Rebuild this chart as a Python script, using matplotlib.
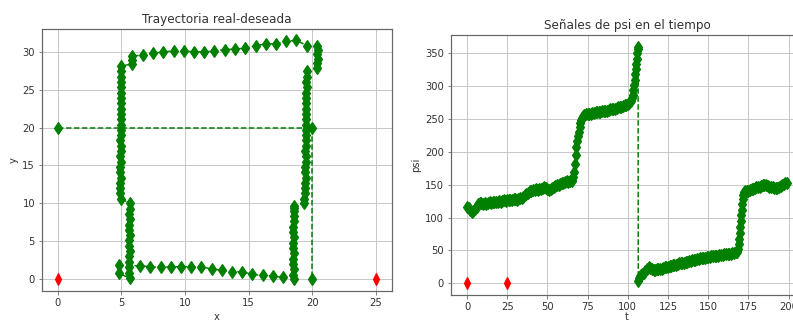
import matplotlib
matplotlib.use("Agg")
import matplotlib.pyplot as plt

# ---- trajectory data (x, y) ----
# waypoint reference path
ref_x = [0, 20, 20]
ref_y = [20, 20, 0]

# points marked in red
goal_x = [0, 25]
goal_y = [0, 0]

# measured trajectory, segment by segment
seg_a_x = [18.55, 18.5, 18.55, 18.5, 18.5, 18.55, 18.5, 18.5, 18.55, 18.5, 18.5, 18.55, 18.6, 18.6]
seg_a_y = [0.0, 0.6, 1.3, 2.0, 2.7, 3.4, 4.1, 4.8, 5.5, 6.2, 6.9, 7.6, 8.3, 9.0]
seg_a2_x = [18.6, 18.6]
seg_a2_y = [9.4, 9.6]
seg_b_x = [19.4, 19.4, 19.45, 19.45, 19.45, 19.5, 19.45, 19.45, 19.5, 19.5, 19.45, 19.5, 19.5,
           19.5, 19.55, 19.5, 19.5, 19.55, 19.55, 19.5, 19.55, 19.55, 19.6, 19.55, 19.6, 19.6]
seg_b_y = [10.0, 10.6, 11.3, 12.0, 12.7, 13.4, 14.1, 14.8, 15.5, 16.2, 16.9, 17.6, 18.3,
           19.0, 19.7, 20.4, 21.1, 21.8, 22.5, 23.2, 23.9, 24.6, 25.3, 26.0, 26.7, 27.4]
seg_c_x = [20.4, 20.4, 20.45, 20.4, 20.45, 20.4]
seg_c_y = [27.9, 28.5, 29.1, 29.7, 30.2, 30.7]
top_x = [19.63, 18.74, 17.95, 17.16, 16.35, 15.56, 14.75, 13.96, 13.15, 12.3, 11.5, 10.7,
         9.9, 9.1, 8.3, 7.5, 6.72]
top_y = [30.8, 31.5, 31.4, 31.05, 31.05, 30.8, 30.5, 30.35, 30.3, 30.1, 30.0, 30.0,
         30.1, 30.1, 30.0, 29.8, 29.6]
seg_e_x = [5.8, 5.8, 5.8]
seg_e_y = [29.4, 28.9, 28.4]
seg_f_x = [5.0, 5.0, 4.95, 5.0, 4.95, 4.95, 5.0, 4.95, 4.95, 4.95, 5.0, 4.95, 4.95,
           4.95, 4.9, 4.95, 4.95, 4.9, 4.95, 4.9, 4.9, 4.95, 4.9, 4.9, 4.9, 4.95]
seg_f_y = [28.1, 27.4, 26.7, 26.0, 25.3, 24.6, 23.9, 23.2, 22.5, 21.8, 21.1, 20.4, 19.7,
           19.0, 18.3, 17.6, 16.9, 16.2, 15.5, 14.8, 14.1, 13.4, 12.7, 12.0, 11.3, 10.6]
seg_g_x = [5.65, 5.65, 5.6, 5.65, 5.6, 5.6, 5.65, 5.6, 5.6, 5.65, 5.6, 5.6, 5.6, 5.6, 5.65]
seg_g_y = [10.0, 9.3, 8.6, 7.9, 7.2, 6.5, 5.8, 5.1, 4.4, 3.7, 3.0, 2.3, 1.6, 0.8, 0.1]
seg_h_x = [4.83, 4.83]
seg_h_y = [0.75, 1.8]
bottom_x = [6.46, 7.24, 8.08, 8.87, 9.69, 10.47, 11.29, 12.1, 12.9, 13.7, 14.5, 15.3,
            16.1, 16.9, 17.7]
bottom_y = [1.76, 1.63, 1.54, 1.63, 1.63, 1.63, 1.63, 1.32, 1.19, 0.97, 0.97, 0.62,
            0.48, 0.4, 0.22]

real_x = (seg_a_x + seg_a2_x + seg_b_x + seg_c_x + top_x + seg_e_x + seg_f_x
          + seg_g_x + seg_h_x + bottom_x)
real_y = (seg_a_y + seg_a2_y + seg_b_y + seg_c_y + top_y + seg_e_y + seg_f_y
          + seg_g_y + seg_h_y + bottom_y)

# ---- heading signal psi(t) ----
psi_t = [
    0, 1, 2, 3, 4, 5, 6, 7, 8, 9, 10, 11, 12, 13, 14, 15, 16, 17, 18, 19, 20,
    21, 22, 23, 24, 25, 26, 27, 28, 29, 30, 31, 32, 33, 34, 35, 36, 37, 38, 39, 40,
    41, 42, 43, 44, 45, 46, 47, 48, 49, 50, 51, 52, 53, 54, 55, 56, 57, 58, 59, 60,
    61, 62, 63, 64, 65,
    65.5, 66, 66.5, 67, 67.5, 68, 68.5, 69, 69.5, 70, 70.5, 71, 71.5, 72, 73,
    74, 75, 76, 77, 78, 79, 80, 81, 82, 83, 84, 85, 86, 87, 88, 89, 90,
    91, 92, 93, 94, 95, 96, 97, 98, 99, 100, 101, 102,
    102.5, 103, 103.5, 104, 104.3, 104.6, 104.9, 105.2, 105.5, 105.8, 106.1, 106.4,
    106.5, 107, 107.5, 108, 109, 110, 111, 112, 113, 114, 115, 116, 117, 118, 119, 120,
    121, 122, 123, 124, 125, 126, 127, 128, 129, 130, 131, 132, 133, 134, 135, 136,
    137, 138, 139, 140, 141, 142, 143, 144, 145, 146, 147, 148, 149, 150, 151, 152,
    153, 154, 155, 156, 157, 158, 159, 160, 161, 162, 163, 164, 165, 166, 167, 168,
    168.5, 169, 169.3, 169.6, 169.9, 170.2, 170.5, 170.8, 171.1, 171.4, 171.7, 172,
    172.5, 173,
    174, 175, 176, 177, 178, 179, 180, 181, 182, 183, 184, 185, 186, 187, 188, 189,
    190, 191, 192, 193, 194, 195, 196, 197, 198, 199,
]
psi_val = [
    116, 114, 111, 109, 110, 113, 116, 120, 122, 122, 121, 122, 121, 122, 123, 122,
    123, 124, 123, 124, 125, 124, 125, 126, 125, 126, 127, 126, 127, 128, 128, 127,
    128, 129, 130, 132, 134, 136, 138, 140, 141, 142, 142, 143, 142, 143, 144, 145,
    146, 145, 144, 142, 143, 145, 147, 148, 149, 150, 151, 152, 153, 154, 155, 154,
    155, 156,
    158, 162, 170, 182, 195, 207, 216, 224, 231, 238, 244, 249, 252, 254, 256,
    257, 257, 258, 258, 259, 259, 260, 260, 261, 261, 262, 262, 263, 263, 264, 265,
    265, 266, 266, 267, 268, 268, 269, 270, 271, 272, 273, 275, 278,
    282, 287, 294, 302, 310, 318, 326, 334, 342, 350, 356, 360,
    3, 8, 11, 12, 14, 16, 19, 22, 24, 23, 21, 20, 20, 21, 21, 22,
    22, 23, 24, 25, 25, 26, 26, 27, 28, 28, 29, 30, 30, 31, 31, 32,
    33, 34, 34, 35, 36, 36, 37, 37, 38, 38, 39, 39, 40, 40, 40, 41,
    41, 42, 42, 42, 43, 43, 43, 44, 44, 44, 45, 45, 46, 46, 47, 48,
    52, 60, 68, 77, 86, 95, 104, 112, 120, 128, 134, 137,
    139, 140,
    141, 141, 142, 143, 144, 145, 146, 146, 147, 148, 149, 150, 149, 148, 147, 147,
    146, 145, 145, 145, 146, 148, 149, 151, 152, 153,
]

goal_t = [0, 25]
goal_psi = [0, 0]

# ---- figure ----
DPI = 72
fig = plt.figure(figsize=(793 / DPI, 323 / DPI), dpi=DPI)

text_color = "#333333"
spine_color = "#666666"

ax1 = fig.add_axes([42 / 793, 1 - 291 / 323, 349.5 / 793, 262.5 / 323])
ax2 = fig.add_axes([451 / 793, 1 - 295 / 323, 352 / 793, 260 / 323])

ms = 9
mew = 1.2
ax1.plot(ref_x, ref_y, "gd--", ms=ms, mew=mew, lw=1.5)
ax1.plot(real_x, real_y, "gd--", ms=ms, mew=mew, lw=1.5)
ax1.plot(goal_x, goal_y, "rd", ms=8, mew=mew)
ax1.set_title("Trayectoria real-deseada", fontsize=12, color=text_color)
ax1.set_xlabel("x", fontsize=10, color=text_color)
ax1.set_ylabel("y", fontsize=10, color=text_color)
ax1.set_xticks([0, 5, 10, 15, 20, 25])
ax1.set_yticks([0, 5, 10, 15, 20, 25, 30])

ax2.plot(psi_t, psi_val, "gd--", ms=ms, mew=mew, lw=1.5)
ax2.plot(goal_t, goal_psi, "rd", ms=8, mew=mew)
ax2.set_title("Señales de psi en el tiempo", fontsize=12, color=text_color)
ax2.set_xlabel("t", fontsize=10, color=text_color, labelpad=0)
ax2.set_ylabel("psi", fontsize=10, color=text_color)
ax2.set_xticks([0, 25, 50, 75, 100, 125, 150, 175, 200])
ax2.set_yticks([0, 50, 100, 150, 200, 250, 300, 350])

for ax in (ax1, ax2):
    ax.grid(True, color="#c8c8c8", lw=1.0)
    ax.set_axisbelow(True)
    ax.tick_params(labelsize=10, colors=text_color, color=spine_color)
    for s in ax.spines.values():
        s.set_color(spine_color)
        s.set_linewidth(1.2)

fig.savefig("out.png", dpi=DPI)
